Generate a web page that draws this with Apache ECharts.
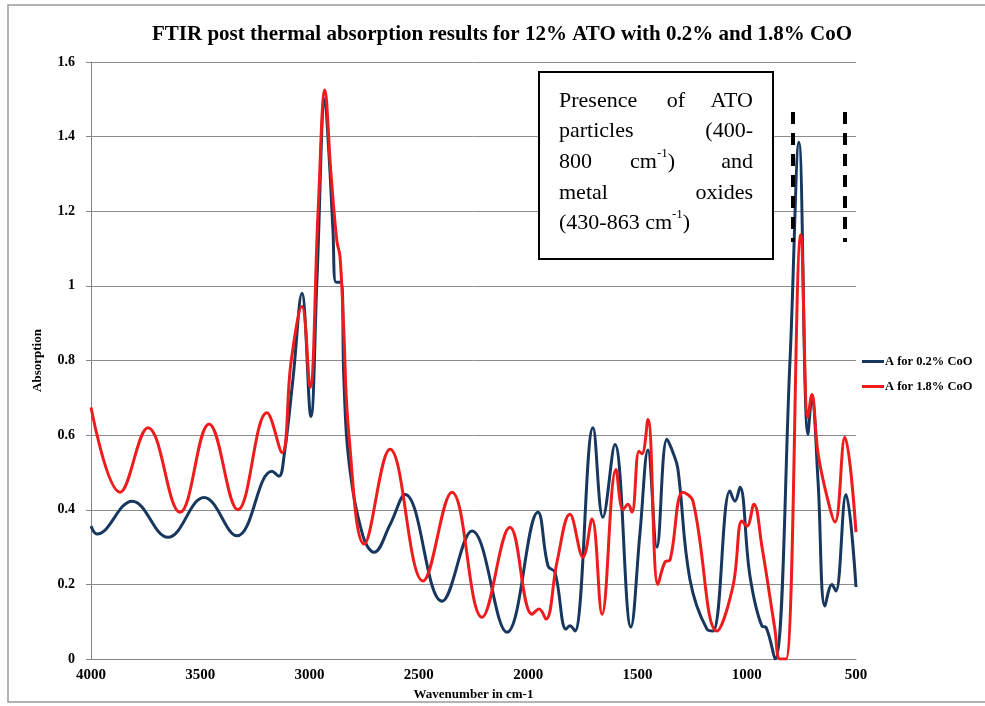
<!DOCTYPE html>
<html>
<head>
<meta charset="utf-8">
<script src="https://cdn.jsdelivr.net/npm/echarts@6/dist/echarts.min.js"></script>
<style>
  html, body { margin: 0; padding: 0; background: #fff; }
  #chart { width: 985px; height: 706px; }
</style>
</head>
<body>
<div id="chart"></div>
<script>
// wavenumber (cm-1) and absorption
const waveLow = [4000, 3973, 3812, 3648, 3483, 3332, 3172, 3140, 3117, 3076, 3035, 2994, 2966, 2930, 2911, 2893, 2879, 2856, 2843, 2820, 2756, 2705, 2632, 2563, 2394, 2257, 2097, 1955, 1909, 1877, 1827, 1809, 1786, 1703, 1658, 1603, 1530, 1488, 1452, 1411, 1365, 1337, 1315, 1260, 1182, 1154, 1077, 1054, 1031, 985, 930, 912, 871, 802, 761, 720, 702, 674, 642, 610, 592, 546, 500]
const absLow = [0.356, 0.335, 0.423, 0.326, 0.433, 0.330, 0.503, 0.490, 0.543, 0.75, 0.98, 0.65, 1.02, 1.50, 1.35, 1.15, 1.01, 1.01, 0.75, 0.53, 0.33, 0.286, 0.36, 0.441, 0.155, 0.343, 0.072, 0.393, 0.249, 0.232, 0.08, 0.089, 0.075, 0.62, 0.38, 0.575, 0.086, 0.34, 0.56, 0.30, 0.589, 0.553, 0.51, 0.214, 0.08, 0.075, 0.45, 0.423, 0.46, 0.222, 0.088, 0.085, 0.0, 0.8, 1.385, 0.602, 0.70, 0.48, 0.142, 0.20, 0.182, 0.441, 0.193]

const waveHigh = [4000, 3867, 3739, 3593, 3460, 3328, 3195, 3126, 3085, 3035, 2998, 2961, 2930, 2902, 2875, 2861, 2845, 2820, 2750, 2632, 2481, 2349, 2211, 2083, 1982, 1950, 1918, 1868, 1809, 1749, 1708, 1662, 1598, 1566, 1543, 1525, 1493, 1479, 1452, 1406, 1374, 1351, 1292, 1246, 1136, 1063, 1022, 999, 967, 930, 871, 848, 820, 752, 720, 702, 674, 633, 596, 551, 500]
const absHigh = [0.674, 0.447, 0.62, 0.393, 0.63, 0.40, 0.66, 0.553, 0.795, 0.945, 0.728, 1.2, 1.525, 1.3, 1.12, 1.08, 0.9, 0.6, 0.308, 0.562, 0.209, 0.447, 0.112, 0.353, 0.12, 0.134, 0.107, 0.26, 0.388, 0.273, 0.375, 0.12, 0.508, 0.40, 0.415, 0.393, 0.557, 0.55, 0.642, 0.20, 0.26, 0.265, 0.447, 0.423, 0.075, 0.195, 0.37, 0.356, 0.415, 0.30, 0.08, 0.0, 0.0, 1.137, 0.647, 0.709, 0.553, 0.436, 0.367, 0.594, 0.34]

const seriesNames = ['A for 0.2% CoO', 'A for 1.8% CoO']

const pairs = (xs, ys) => xs.map((x, i) => [x, ys[i]])

const serif = '"Liberation Serif", "Times New Roman", serif'
const chart = echarts.init(document.getElementById('chart'))

const word = (text, x, y, align) => ({
  type: 'text',
  x: x,
  y: y,
  z: 11,
  style: {
    text: text,
    font: '22px ' + serif,
    fill: '#000',
    align: align || 'left',
    verticalAlign: 'middle',
    rich: {
      n: { fontSize: 22, fontFamily: serif, lineHeight: 30, verticalAlign: 'middle' },
      s: { fontSize: 13, fontFamily: serif, lineHeight: 16, verticalAlign: 'top' }
    }
  }
})

const option = {
  animation: false,
  backgroundColor: '#fff',
  color: ['#17375E', '#EE1C1C'],
  title: {
    text: 'FTIR post thermal absorption results for 12% ATO with 0.2% and 1.8% CoO',
    left: 502,
    top: 19,
    textAlign: 'center',
    textStyle: { fontFamily: serif, fontWeight: 'bold', fontSize: 21, color: '#000' }
  },
  legend: {
    orient: 'vertical',
    left: 857,
    top: 350,
    itemWidth: 22,
    itemHeight: 3,
    itemGap: 12,
    icon: 'rect',
    data: seriesNames,
    textStyle: { fontFamily: serif, fontWeight: 'bold', fontSize: 12.5, color: '#000', padding: [0, 0, 0, -4] }
  },
  grid: { left: 91, right: 129, top: 62, bottom: 46 },
  xAxis: {
    type: 'value',
    inverse: true,
    min: 500,
    max: 4000,
    interval: 500,
    name: 'Wavenumber in cm-1',
    nameLocation: 'middle',
    nameGap: 29,
    nameTextStyle: { fontFamily: serif, fontWeight: 'bold', fontSize: 13, color: '#000' },
    axisLine: { lineStyle: { color: '#868686', width: 1 } },
    axisTick: { show: false },
    splitLine: { show: false },
    axisLabel: { fontFamily: serif, fontWeight: 'bold', fontSize: 15, color: '#000', margin: 9, formatter: v => String(v) }
  },
  yAxis: {
    type: 'value',
    min: 0,
    max: 1.6,
    interval: 0.2,
    name: 'Absorption',
    nameLocation: 'middle',
    nameGap: 47,
    nameTextStyle: { fontFamily: serif, fontWeight: 'bold', fontSize: 13, color: '#000' },
    axisLine: { show: true, lineStyle: { color: '#868686', width: 1 } },
    axisTick: { show: true, length: 5, lineStyle: { color: '#868686' } },
    splitLine: { lineStyle: { color: '#8c8c8c', width: 1 } },
    axisLabel: { fontFamily: serif, fontWeight: 'bold', fontSize: 14, color: '#000', margin: 16 }
  },
  series: [
    {
      name: seriesNames[0],
      type: 'line',
      data: pairs(waveLow, absLow),
      smooth: 0.4,
      symbol: 'none',
      lineStyle: { width: 3, color: '#17375E' },
      z: 2
    },
    {
      name: seriesNames[1],
      type: 'line',
      data: pairs(waveHigh, absHigh),
      smooth: 0.4,
      symbol: 'none',
      lineStyle: { width: 3, color: '#EE1C1C' },
      z: 3
    }
  ],
  graphic: [
    // outer frame
    { type: 'rect', shape: { x: 8, y: 5, width: 990, height: 697 }, style: { fill: null, stroke: '#9a9a9a', lineWidth: 1.5 }, silent: true },
    // annotation box
    { type: 'rect', shape: { x: 539, y: 72, width: 234, height: 187 }, style: { fill: '#fff', stroke: '#000', lineWidth: 2 }, z: 10 },
    word('Presence', 559, 101),
    word('of', 676, 101, 'center'),
    word('ATO', 753, 101, 'right'),
    word('particles', 559, 131),
    word('(400-', 753, 131, 'right'),
    word('800', 559, 162),
    word('{n|cm}{s|-1}{n|)}', 630, 162),
    word('and', 753, 162, 'right'),
    word('metal', 559, 193),
    word('oxides', 753, 193, 'right'),
    word('{n|(430-863 cm}{s|-1}{n|)}', 559, 223),
    // dashed markers
    { type: 'line', shape: { x1: 793, y1: 112, x2: 793, y2: 242 }, style: { stroke: '#000', lineWidth: 4, lineDash: [12, 9] }, z: 12 },
    { type: 'line', shape: { x1: 845, y1: 112, x2: 845, y2: 242 }, style: { stroke: '#000', lineWidth: 4, lineDash: [12, 9] }, z: 12 }
  ]
}

option.title.left = 497

chart.setOption(option)
</script>
</body>
</html>
